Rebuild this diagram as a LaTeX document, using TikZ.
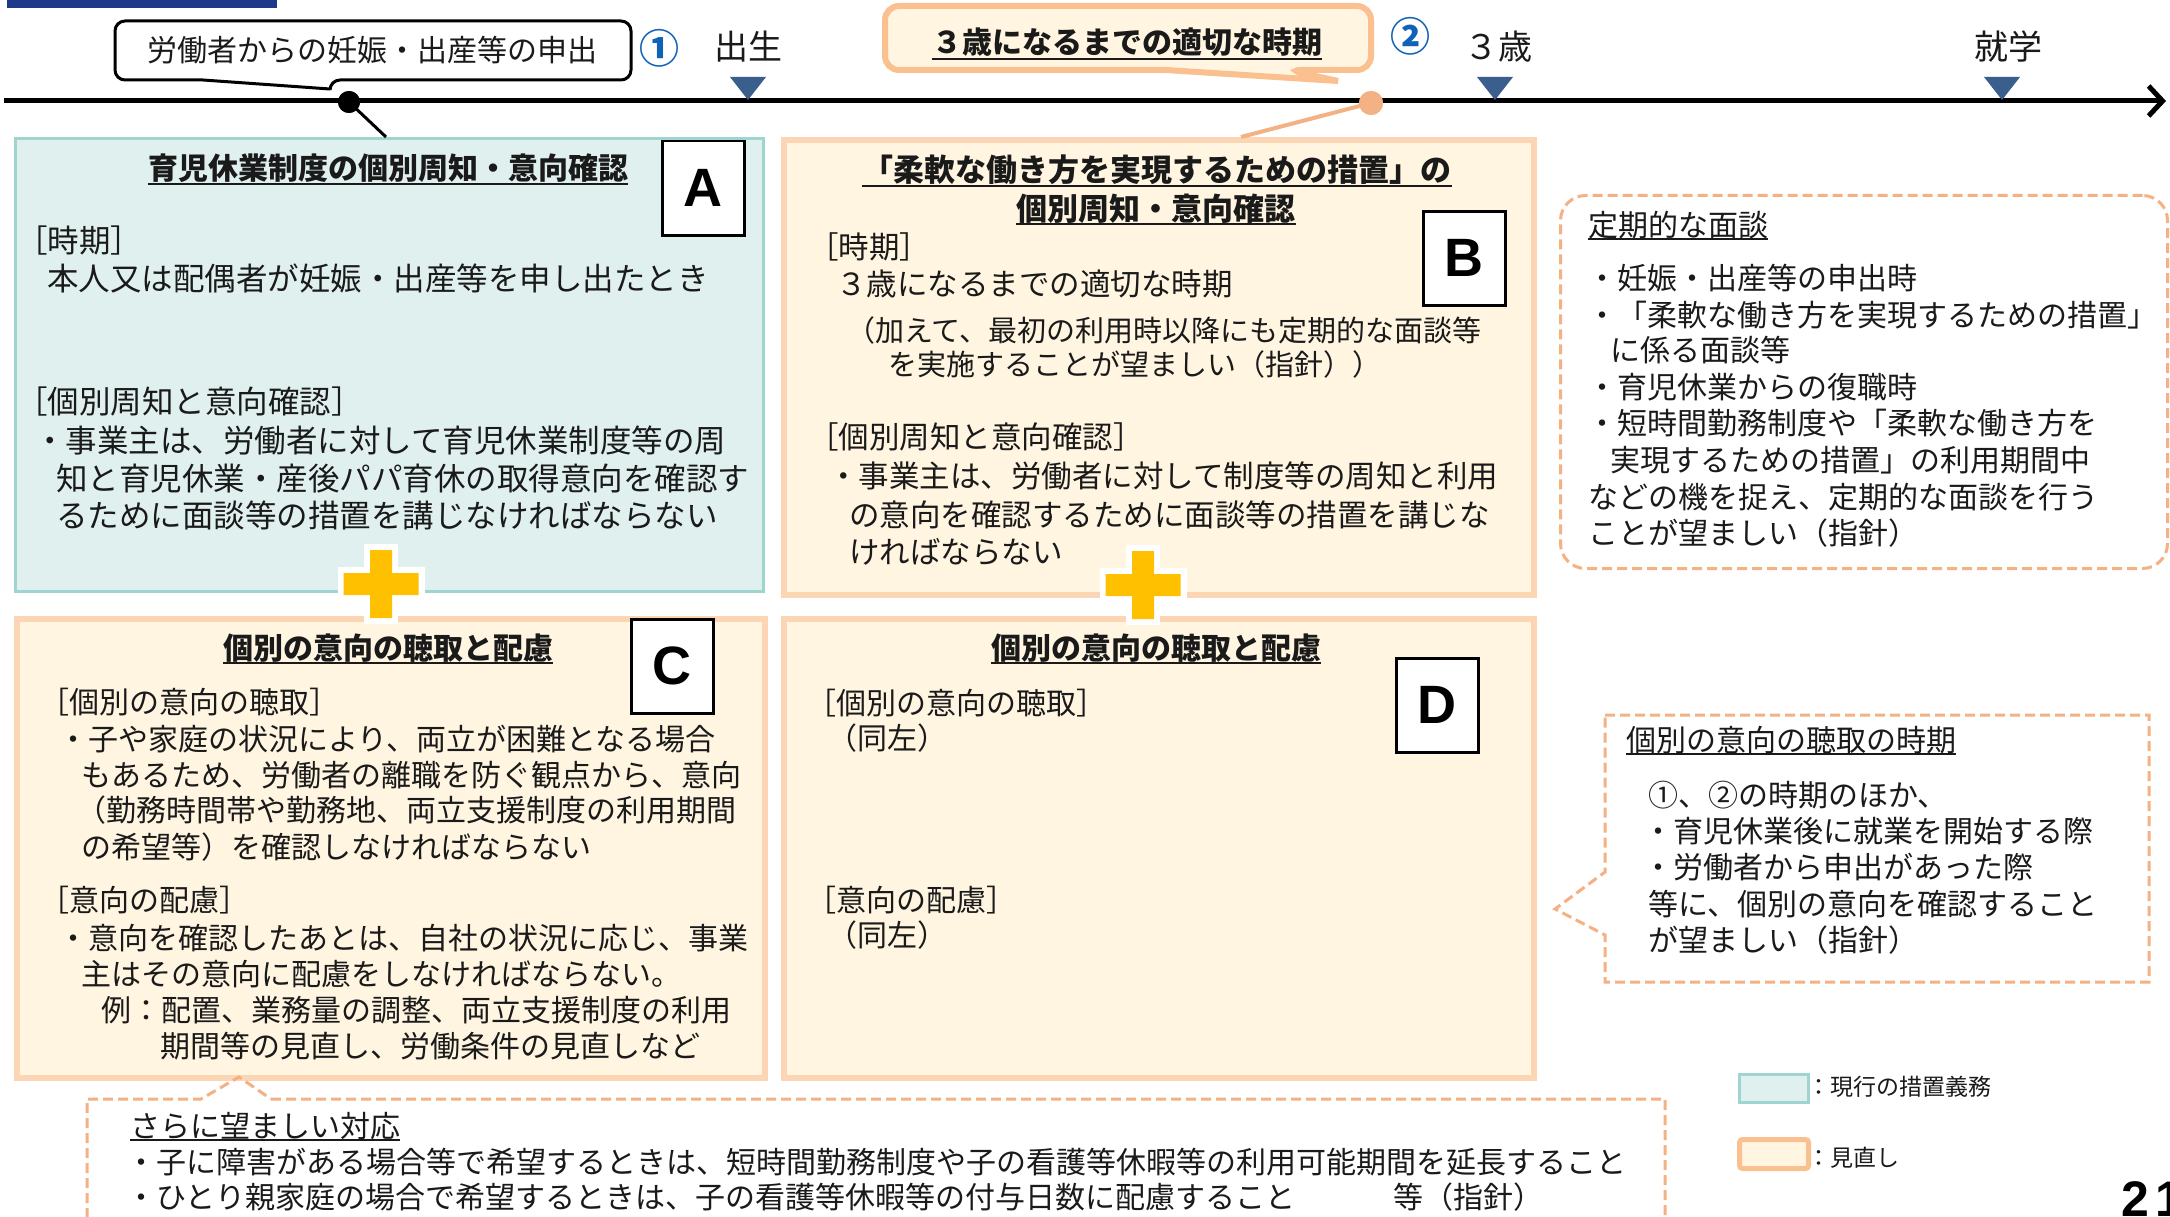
\documentclass[tikz,border=0pt]{standalone}
\usepackage{fontspec}
\setmainfont{Noto Sans CJK JP}
\newfontfamily\latinfont{Liberation Sans}
\usetikzlibrary{arrows.meta}
\definecolor{ink}{HTML}{1A1A1A}
\definecolor{navybar}{HTML}{1D3A8A}
\definecolor{tri}{HTML}{3A5F8C}
\definecolor{numblue}{HTML}{0F62B8}
\definecolor{cyanfill}{HTML}{DFF0EF}
\definecolor{cyanline}{HTML}{9ED5D1}
\definecolor{cream}{HTML}{FFF5E1}
\definecolor{peachline}{HTML}{FCD5B4}
\definecolor{calloutorange}{HTML}{FAC08F}
\definecolor{dashorange}{HTML}{F4B183}
\definecolor{plusgold}{HTML}{FFC000}
\tikzset{
  txt/.style={inner sep=0pt, anchor=base west, text=ink, font=\fontsize{30}{36}\selectfont},
  txtA/.style={txt, font=\fontsize{31.5}{36}\selectfont},
  txtB/.style={txt, font=\fontsize{30.5}{36}\selectfont},
  txtsmall/.style={txt, font=\fontsize{29}{36}\selectfont},
  txtc/.style={txt, anchor=base},
  ttl/.style={inner sep=0pt, anchor=base, text=ink, font=\bfseries\fontsize{30}{36}\selectfont},
  uline/.style={draw=ink, line width=2pt},
  curbox/.style={draw=cyanline, fill=cyanfill, line width=3pt, anchor=north west, inner sep=0pt},
  newbox/.style={draw=peachline, fill=cream, line width=6pt, anchor=north west, inner sep=0pt},
  letterbox/.style={draw=black, fill=white, line width=2.5pt, anchor=north west, minimum width=82pt, minimum height=94pt, inner sep=0pt, font=\latinfont\bfseries\fontsize{54}{54}\selectfont},
  dashedline/.style={draw=dashorange, line width=3pt, dash pattern=on 10pt off 5pt},
  plussign/.pic={
    \path[fill=white, draw=white, line width=12pt, line join=miter]
      (-11,-34) -- (11,-34) -- (11,-11) -- (37.5,-11) -- (37.5,11) -- (11,11) -- (11,34) -- (-11,34) -- (-11,11) -- (-37.5,11) -- (-37.5,-11) -- (-11,-11) -- cycle;
    \fill[plusgold]
      (-11,-34) -- (11,-34) -- (11,-11) -- (37.5,-11) -- (37.5,11) -- (11,11) -- (11,34) -- (-11,34) -- (-11,11) -- (-37.5,11) -- (-37.5,-11) -- (-11,-11) -- cycle;
  }
}
\begin{document}
\begin{tikzpicture}[x=1pt,y=-1pt]
\useasboundingbox (0,0) rectangle (2170,1217);
\fill[white] (0,0) rectangle (2170,1217);
% top-left bar
\fill[navybar] (7,0) rectangle (277,8);

% ---- timeline ----
\coordinate (tl0) at (4,101);
\coordinate (tl1) at (2166,101);
\draw[line width=5pt, -{Straight Barb[length=14pt,width=30pt]}] (tl0) -- (tl1);
\fill[tri] (730,77) -- (766,77) -- (748,100) -- cycle;
\fill[tri] (1477,77) -- (1513,77) -- (1495,100) -- cycle;
\fill[tri] (1984,77) -- (2020,77) -- (2002,100) -- cycle;
\node[txtc, font=\fontsize{34}{40}\selectfont] (lbBirth) at (748,60) {出生};
\node[txtc, font=\fontsize{34}{40}\selectfont] (lbThree) at (1498,60) {３歳};
\node[txtc, font=\fontsize{34}{40}\selectfont] (lbSchool) at (2008,60) {就学};
\node[inner sep=0pt, text=numblue, font=\bfseries\fontsize{40}{40}\selectfont] (numOne) at (659,48) {①};
\node[inner sep=0pt, text=numblue, font=\bfseries\fontsize{40}{40}\selectfont] (numTwo) at (1410,36) {②};

% callout 1
\draw[draw=black, line width=3pt, fill=white]
  (400,21) [rounded corners=10pt] -- (631,21) -- (631,80) -- (330,80) [sharp corners] -- (330,89) -- (203,80) [rounded corners=10pt] -- (115,80) -- (115,21) -- cycle;
\node[txtc] (callOneText) at (372,62) {労働者からの妊娠・出産等の申出};

% callout 2
\draw[draw=calloutorange, line width=6pt, fill=cream]
  (1100,6) [rounded corners=14pt] -- (1371,6) -- (1371,70) -- (1288,70) [sharp corners] -- (1338,81) -- (1166,70) [rounded corners=14pt] -- (885,70) -- (885,6) -- cycle;
\node[ttl] (callTwoText) at (1127,54) {３歳になるまでの適切な時期};
\draw[uline] ([yshift=-5pt]callTwoText.base west) -- ([yshift=-5pt]callTwoText.base east);

% ---- main boxes ----
\node[curbox, minimum width=748pt, minimum height=453pt] (boxA) at (14,137) {};
\node[newbox, minimum width=750pt, minimum height=455pt] (boxB) at (781,137) {};
\node[newbox, minimum width=748pt, minimum height=459pt] (boxC) at (14,616) {};
\node[newbox, minimum width=750pt, minimum height=459pt] (boxD) at (781,616) {};

% dots and connectors
\coordinate (aTop) at (386,137);
\coordinate (bTop) at (1241,137);
\node[circle, fill=black, inner sep=0pt, minimum size=22pt] (dotOne) at (349,102) {};
\node[circle, fill=dashorange, inner sep=0pt, minimum size=24pt] (dotTwo) at (1371,103) {};
\draw[line width=3pt, black] (dotOne.center) -- (aTop);
\draw[line width=4pt, dashorange] (dotTwo.center) -- (bTop);
\node[circle, fill=black, inner sep=0pt, minimum size=22pt] (dotOneTop) at (349,102) {};
\node[circle, fill=dashorange, inner sep=0pt, minimum size=24pt] (dotTwoTop) at (1371,103) {};

% plus signs
\pic at (381,584) {plussign};
\pic at (1143,585) {plussign};

% letter boxes
\node[letterbox] (letA) at (661,140) {A};
\node[letterbox] (letB) at (1422,210) {B};
\node[letterbox] (letC) at (630,618) {C};
\node[letterbox] (letD) at (1395,657) {D};

% ---- box A text ----
\node[ttl] (aTitle) at (388,180) {育児休業制度の個別周知・意向確認};
\draw[uline] ([yshift=-4pt]aTitle.base west) -- ([yshift=-4pt]aTitle.base east);
\node[txtA] (a1) at (16,252) {［時期］};
\node[txtA] (a2) at (47,290) {本人又は配偶者が妊娠・出産等を申し出たとき};
\node[txtA] (a3) at (16,413) {［個別周知と意向確認］};
\node[txtA] (a4) at (34,452) {・事業主は、労働者に対して育児休業制度等の周};
\node[txtA] (a5) at (56,490) {知と育児休業・産後パパ育休の取得意向を確認す};
\node[txtA] (a6) at (56,527) {るために面談等の措置を講じなければならない};

% ---- box B text ----
\node[ttl, font=\bfseries\fontsize{31}{36}\selectfont] (bTitleOne) at (1157,182) {「柔軟な働き方を実現するための措置」の};
\draw[uline] ([yshift=-4pt]bTitleOne.base west) -- ([yshift=-4pt]bTitleOne.base east);
\node[ttl, font=\bfseries\fontsize{31}{36}\selectfont] (bTitleTwo) at (1156,220) {個別周知・意向確認};
\draw[uline] ([yshift=-4pt]bTitleTwo.base west) -- ([yshift=-4pt]bTitleTwo.base east);
\node[txtB] (b1) at (808,258) {［時期］};
\node[txtB] (b2) at (836,295) {３歳になるまでの適切な時期};
\node[txtsmall] (b3) at (846,341) {（加えて、最初の利用時以降にも定期的な面談等};
\node[txtsmall] (b4) at (888,375) {を実施することが望ましい（指針））};
\node[txtB] (b5) at (808,448) {［個別周知と意向確認］};
\node[txtB] (b6) at (828,487) {・事業主は、労働者に対して制度等の周知と利用};
\node[txtB] (b7) at (849,526) {の意向を確認するために面談等の措置を講じな};
\node[txtB] (b8) at (849,563) {ければならない};

% ---- box C text ----
\node[ttl] (cTitle) at (388,659) {個別の意向の聴取と配慮};
\draw[uline] ([yshift=-4pt]cTitle.base west) -- ([yshift=-4pt]cTitle.base east);
\node[txt] (c1) at (39,713) {［個別の意向の聴取］};
\node[txt] (c2) at (58,750) {・子や家庭の状況により、両立が困難となる場合};
\node[txt] (c3) at (81,786) {もあるため、労働者の離職を防ぐ観点から、意向};
\node[txt] (c4) at (76,821) {（勤務時間帯や勤務地、両立支援制度の利用期間};
\node[txt] (c5) at (81,858) {の希望等）を確認しなければならない};
\node[txt] (c6) at (39,911) {［意向の配慮］};
\node[txt] (c7) at (58,949) {・意向を確認したあとは、自社の状況に応じ、事業};
\node[txt] (c8) at (81,985) {主はその意向に配慮をしなければならない。};
\node[txt] (c9) at (101,1021) {例：配置、業務量の調整、両立支援制度の利用};
\node[txt] (c10) at (160,1057) {期間等の見直し、労働条件の見直しなど};

% ---- box D text ----
\node[ttl] (dTitle) at (1156,659) {個別の意向の聴取と配慮};
\draw[uline] ([yshift=-4pt]dTitle.base west) -- ([yshift=-4pt]dTitle.base east);
\node[txt] (d1) at (806,714) {［個別の意向の聴取］};
\node[txt] (d2) at (827,749) {（同左）};
\node[txt] (d3) at (806,911) {［意向の配慮］};
\node[txt] (d4) at (827,946) {（同左）};

% ---- right top dashed box ----
\node[dashedline, rounded corners=25pt, anchor=north west, minimum width=607pt, minimum height=373pt, inner sep=0pt] (regBox) at (1559,194) {};
\node[txt] (r0) at (1588,236) {定期的な面談};
\draw[uline, line width=1.5pt] ([yshift=-3pt]r0.base west) -- ([yshift=-3pt]r0.base east);
\node[txt] (r1) at (1587,289) {・妊娠・出産等の申出時};
\node[txt] (r2) at (1587,326) {・「柔軟な働き方を実現するための措置」};
\node[txt] (r3) at (1610,361) {に係る面談等};
\node[txt] (r4) at (1587,398) {・育児休業からの復職時};
\node[txt] (r5) at (1587,434) {・短時間勤務制度や「柔軟な働き方を};
\node[txt] (r6) at (1610,471) {実現するための措置」の利用期間中};
\node[txt] (r7) at (1588,508) {などの機を捉え、定期的な面談を行う};
\node[txt] (r8) at (1588,544) {ことが望ましい（指針）};

% ---- middle right callout ----
\draw[dashedline] (1605,715) -- (2149,715) -- (2149,982) -- (1605,982) -- (1605,935) -- (1555,909) -- (1605,872) -- cycle;
\node[txt] (m0) at (1626,751) {個別の意向の聴取の時期};
\draw[uline, line width=1.5pt] ([yshift=-3pt]m0.base west) -- ([yshift=-3pt]m0.base east);
\node[txt] (m1) at (1648,806) {①、②の時期のほか、};
\node[txt] (m2) at (1643,842) {・育児休業後に就業を開始する際};
\node[txt] (m3) at (1643,878) {・労働者から申出があった際};
\node[txt] (m4) at (1648,915) {等に、個別の意向を確認すること};
\node[txt] (m5) at (1648,951) {が望ましい（指針）};

% ---- bottom callout ----
\draw[dashedline] (271,1099) -- (1665,1099) -- (1665,1240) -- (87,1240) -- (87,1099) -- (201,1099) -- (239,1077) -- cycle;
\node[txt] (s0) at (130,1137) {さらに望ましい対応};
\draw[uline, line width=1.5pt] ([yshift=-3pt]s0.base west) -- ([yshift=-3pt]s0.base east);
\node[txt] (s1) at (126,1173) {・子に障害がある場合等で希望するときは、短時間勤務制度や子の看護等休暇等の利用可能期間を延長すること};
\node[txt] (s2) at (126,1208) {・ひとり親家庭の場合で希望するときは、子の看護等休暇等の付与日数に配慮すること\hspace{98pt}等（指針）};

% ---- legend ----
\node[anchor=north west, draw=cyanline, fill=cyanfill, line width=2.5pt, minimum width=69pt, minimum height=28pt, inner sep=0pt] (legCur) at (1738,1073) {};
\node[anchor=north west, draw=calloutorange, fill=cream, line width=5pt, rounded corners=3pt, minimum width=69pt, minimum height=29pt, inner sep=0pt] (legNew) at (1737,1137) {};
\node[txt, font=\fontsize{23}{26}\selectfont] (legCurText) at (1807,1095) {：現行の措置義務};
\node[txt, font=\fontsize{23}{26}\selectfont] (legNewText) at (1807,1166) {：見直し};

% page number (cut by the right edge, as in the reference)
\node[inner sep=0pt, anchor=base west, font=\latinfont\bfseries\fontsize{50}{50}\selectfont] (pageNum) at (2121,1216) {2\kern6pt 1};
\end{tikzpicture}
\end{document}
